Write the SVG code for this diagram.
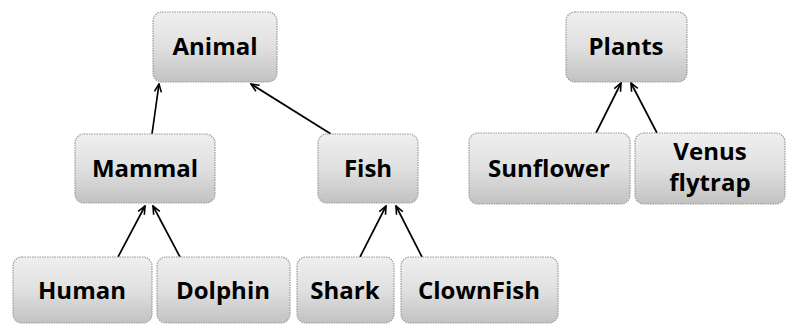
<svg xmlns="http://www.w3.org/2000/svg" width="787" height="325" viewBox="0 0 787 325">
<defs>
<linearGradient id="g" x1="0" y1="0" x2="0" y2="1">
<stop offset="0" stop-color="#efefef"/>
<stop offset="0.5" stop-color="#e0e0e0"/>
<stop offset="1" stop-color="#c2c2c2"/>
</linearGradient>
<marker id="arr" markerWidth="10" markerHeight="10" refX="9" refY="5" orient="auto" markerUnits="userSpaceOnUse">
<path d="M1,1.5 L9,5 L1,8.5" fill="none" stroke="#000" stroke-width="1.6"/>
</marker>
</defs>
<style>
rect.n{fill:url(#g);stroke:#999;stroke-width:1.2;stroke-dasharray:1.5 1}
text{font-family:"Open Sans","Liberation Sans",sans-serif;font-weight:bold;font-size:24px;fill:#000;text-anchor:middle}
.c line{stroke:#000;stroke-width:1.7;marker-end:url(#arr)}
</style>
<rect width="787" height="325" fill="#fff"/>
<g class="c" id="connectors">
<line x1="152" y1="134" x2="159" y2="84"/>
<line x1="331" y1="134" x2="251" y2="84"/>
<line x1="118" y1="257" x2="145" y2="206"/>
<line x1="180" y1="257" x2="153" y2="206"/>
<line x1="360" y1="257" x2="386" y2="206"/>
<line x1="422" y1="257" x2="396" y2="206"/>
<line x1="596" y1="133" x2="621" y2="83"/>
<line x1="657" y1="133" x2="631" y2="83"/>
</g>
<g id="animal"><rect class="n" x="153" y="12" width="124" height="70" rx="9"/><text x="215" y="55">Animal</text></g>
<g id="mammal"><rect class="n" x="75" y="134" width="140" height="69" rx="9"/><text x="145" y="177">Mammal</text></g>
<g id="fish"><rect class="n" x="318" y="134" width="100" height="69" rx="9"/><text x="368" y="177">Fish</text></g>
<g id="human"><rect class="n" x="13" y="257" width="139" height="66" rx="9"/><text x="82" y="299">Human</text></g>
<g id="dolphin"><rect class="n" x="157" y="257" width="133" height="66" rx="9"/><text x="223" y="299">Dolphin</text></g>
<g id="shark"><rect class="n" x="297" y="257" width="97" height="66" rx="9"/><text x="345" y="299">Shark</text></g>
<g id="clownfish"><rect class="n" x="401" y="257" width="157" height="66" rx="9"/><text x="479" y="299">ClownFish</text></g>
<g id="plants"><rect class="n" x="566" y="12" width="121" height="70" rx="9"/><text x="626" y="55">Plants</text></g>
<g id="sunflower"><rect class="n" x="469" y="133" width="161" height="71" rx="9"/><text x="549" y="177">Sunflower</text></g>
<g id="venus"><rect class="n" x="635" y="133" width="150" height="71" rx="9"/><text x="710" y="160">Venus</text><text x="710" y="191">flytrap</text></g>
</svg>
